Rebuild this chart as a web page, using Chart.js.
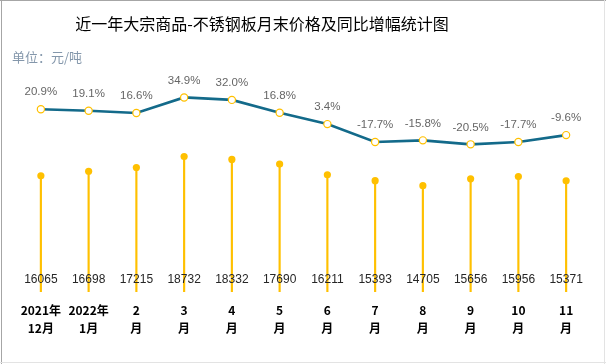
<!DOCTYPE html>
<html>
<head>
<meta charset="utf-8">
<script src="https://cdn.jsdelivr.net/npm/chart.js@4/dist/chart.umd.min.js"></script>
<style>
  html, body { margin: 0; padding: 0; background: #fff; }
  #wrap { width: 606px; height: 364px; position: relative; }
</style>
</head>
<body>
<div id="wrap"><canvas id="c"></canvas></div>
<script>
// 月份（两行标签）
const categories = [
  ['2021年', '12月'], ['2022年', '1月'], ['2', '月'], ['3', '月'], ['4', '月'], ['5', '月'],
  ['6', '月'], ['7', '月'], ['8', '月'], ['9', '月'], ['10', '月'], ['11', '月']
];
// 月末价格（元/吨）
const prices = [16065, 16698, 17215, 18732, 18332, 17690, 16211, 15393, 14705, 15656, 15956, 15371];
// 同比增幅（%）
const yoy = [20.9, 19.1, 16.6, 34.9, 32.0, 16.8, 3.4, -17.7, -15.8, -20.5, -17.7, -9.6];

const YELLOW = '#FFC000';
const TEAL = '#136A8A';

// 标题、单位、边框、数据标签
const decor = {
  id: 'decor',
  beforeDraw(chart) {
    const ctx = chart.ctx;
    ctx.save();
    ctx.fillStyle = '#fff';
    ctx.fillRect(0, 0, chart.width, chart.height);
    ctx.fillStyle = '#000';
    ctx.font = '16px "Noto Sans CJK SC", sans-serif';
    ctx.textAlign = 'center';
    ctx.textBaseline = 'middle';
    ctx.fillText('近一年大宗商品-不锈钢板月末价格及同比增幅统计图', 262, 24);
    ctx.fillStyle = '#8497AB';
    ctx.font = '13px "Noto Sans CJK SC", sans-serif';
    ctx.textAlign = 'left';
    ctx.fillText('单位：元/吨', 12, 57);
    // 边框
    ctx.strokeStyle = '#A6A6A6';
    ctx.lineWidth = 1;
    ctx.beginPath();
    ctx.moveTo(0, 0.5); ctx.lineTo(chart.width, 0.5);
    ctx.moveTo(1.5, 0); ctx.lineTo(1.5, chart.height);
    ctx.stroke();
    ctx.strokeStyle = '#E3E3E3';
    ctx.beginPath();
    ctx.moveTo(chart.width - 1.5, 0); ctx.lineTo(chart.width - 1.5, chart.height);
    ctx.moveTo(0, chart.height - 1.5); ctx.lineTo(chart.width, chart.height - 1.5);
    ctx.stroke();
    ctx.restore();
  },
  afterDatasetsDraw(chart) {
    const ctx = chart.ctx;
    ctx.save();
    ctx.textAlign = 'center';
    ctx.textBaseline = 'middle';
    // 同比标签
    ctx.fillStyle = '#666';
    ctx.font = '11.5px "Liberation Sans", Arial, sans-serif';
    chart.getDatasetMeta(2).data.forEach((pt, i) => {
      ctx.fillText(yoy[i].toFixed(1) + '%', pt.x, pt.y - 17);
    });
    // 价格标签
    ctx.fillStyle = '#262626';
    ctx.font = '12px "Liberation Sans", Arial, sans-serif';
    chart.getDatasetMeta(0).data.forEach((bar, i) => {
      ctx.fillText(String(prices[i]), bar.x, chart.chartArea.bottom - 12);
    });
    ctx.restore();
  }
};

new Chart(document.getElementById('c'), {
  data: {
    labels: categories,
    datasets: [
      {
        type: 'bar',
        label: '价格',
        data: prices,
        yAxisID: 'y',
        backgroundColor: YELLOW,
        barThickness: 1.5,
        order: 3
      },
      {
        type: 'line',
        label: '价格点',
        data: prices,
        yAxisID: 'y',
        showLine: false,
        pointRadius: 3.6,
        pointBackgroundColor: YELLOW,
        pointBorderWidth: 0,
        order: 2
      },
      {
        type: 'line',
        label: '同比增幅',
        data: yoy,
        yAxisID: 'y2',
        borderColor: TEAL,
        borderWidth: 2.6,
        tension: 0,
        pointRadius: 3.6,
        pointBackgroundColor: '#fff',
        pointBorderColor: YELLOW,
        pointBorderWidth: 1.2,
        order: 1
      }
    ]
  },
  options: {
    responsive: true,
    maintainAspectRatio: false,
    animation: false,
    layout: { padding: { top: 70, left: 17, right: 16, bottom: 18 } },
    plugins: {
      legend: { display: false },
      tooltip: { enabled: false }
    },
    scales: {
      x: {
        grid: { display: false, drawTicks: false },
        border: { display: false },
        ticks: {
          color: '#000',
          padding: 9,
          maxRotation: 0,
          autoSkip: false,
          font: { size: 12, weight: 'bold', family: '"Noto Sans CJK SC", sans-serif', lineHeight: '18px' }
        }
      },
      y: { display: false, min: 0, max: 30700 },
      y2: { display: false, min: -194.9, max: 67.3 }
    }
  },
  plugins: [decor]
});
</script>
</body>
</html>
